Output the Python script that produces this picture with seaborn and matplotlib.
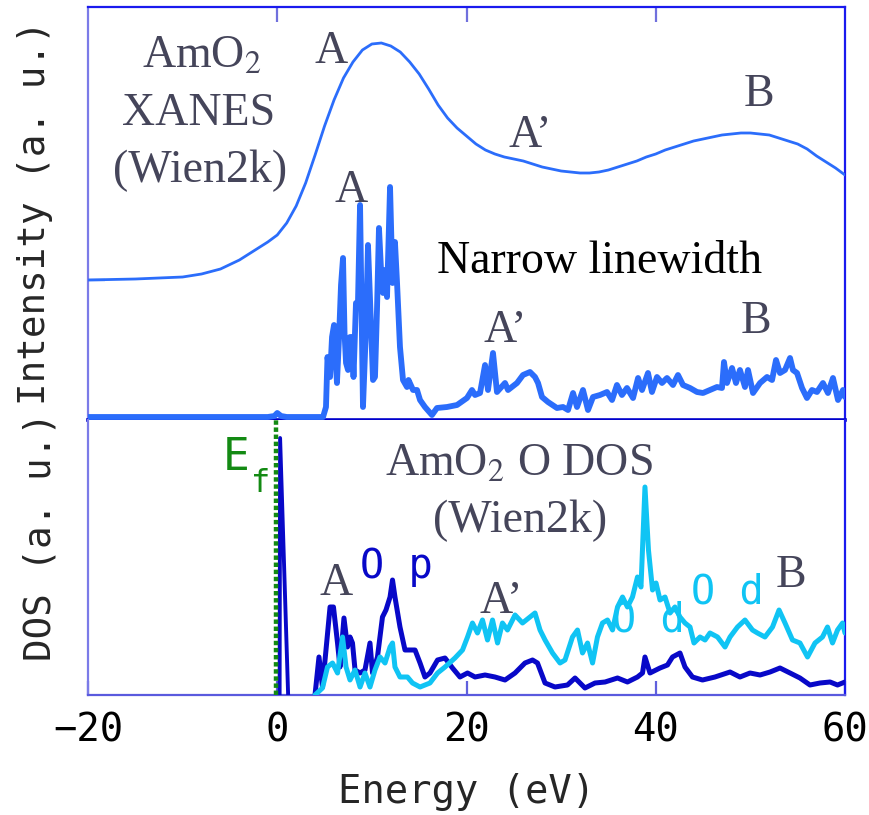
import matplotlib
matplotlib.use("Agg")
import matplotlib.pyplot as plt
import seaborn as sns

sns.set_style("white")
plt.rcParams["font.family"] = ["DejaVu Sans Mono"]
plt.rcParams["mathtext.fontset"] = "stix"

# XANES (broadened), energy in eV, intensity in a.u.
xanes_e = [-20, -15, -10, -8, -6, -4, -3, -2, -1, 0, 1, 2, 3, 4, 5, 6, 7, 8, 9, 10,
           11, 12, 13, 14, 15, 16, 17, 18, 19, 20, 21, 22, 23, 24, 25, 26, 27, 28, 29,
           30, 31, 32, 33, 34, 35, 36, 37, 38, 39, 40, 41, 42, 43, 44, 45, 46, 47, 48,
           49, 50, 51, 52, 53, 54, 55, 56, 57, 58, 59, 60]
xanes_v = [140, 141, 143, 146, 151, 160, 166, 172, 178, 185, 197, 214, 237, 265, 294, 320, 342, 358, 370, 376,
           377, 374, 368, 358, 346, 331, 315, 302, 292, 284, 276, 270, 266, 263, 261, 259, 256, 253, 251,
           249, 248, 247, 247, 248, 250, 253, 256, 259, 263, 266, 270, 273, 276, 279, 281, 283, 285, 286,
           287, 287, 286, 285, 282, 279, 276, 271, 264, 258, 252, 245]

# XANES with narrow linewidth
narrow_e = [-20, -1.0, -0.3, 0.0, 0.4, 1.0, 4.3, 4.84, 5.15, 5.31,
            5.58, 5.79, 6.00, 6.31, 6.53, 6.74, 6.95, 7.11, 7.27, 7.48,
            7.69, 7.90, 8.06, 8.32, 8.53, 8.75, 9.06, 9.38, 9.59, 9.91,
            10.12, 10.33, 10.54, 10.75, 11.02, 11.18, 11.39, 11.60, 11.92, 12.18,
            12.44, 12.66, 12.97, 13.29, 13.71, 13.87, 14.35, 14.77, 15.09, 15.61,
            16.35, 16.88, 17.94, 19.00, 20.05, 20.58, 20.90, 21.43, 21.96, 22.27,
            22.80, 23.22, 24.07, 24.39, 25.34, 25.97, 26.71, 27.24, 27.56, 27.98,
            28.61, 29.56, 30.20, 30.73, 31.26, 31.68, 32.31, 32.84, 33.37, 34.11,
            34.85, 35.38, 35.90, 36.43, 36.96, 37.60, 38.13, 38.55, 39.18, 39.60,
            40.13, 40.66, 41.19, 41.82, 42.35, 42.88, 43.62, 44.36, 44.99, 45.73,
            46.47, 47.00, 47.21, 47.53, 48.06, 48.48, 48.90, 49.43, 49.75, 50.28,
            51.02, 51.76, 52.29, 52.71, 53.13, 53.66, 54.19, 54.50, 54.93, 55.46,
            55.98, 56.51, 57.04, 57.67, 58.20, 58.73, 59.26, 59.79, 60.0]
narrow_v = [3, 3, 4, 7, 4, 3, 3, 3, 13, 63,
            43, 83, 95, 37, 83, 135, 162, 87, 57, 50,
            83, 83, 43, 117, 117, 215, 13, 93, 175, 93,
            40, 43, 110, 192, 140, 127, 150, 123, 233, 137,
            178, 137, 73, 40, 33, 40, 30, 30, 20, 13,
            5, 12, 13, 15, 22, 30, 25, 27, 55, 30,
            67, 28, 37, 30, 37, 45, 48, 43, 37, 23,
            18, 12, 13, 10, 27, 13, 30, 10, 23, 25,
            28, 20, 35, 25, 32, 22, 42, 30, 47, 28,
            43, 37, 42, 35, 45, 35, 32, 28, 27, 30,
            33, 32, 58, 37, 52, 37, 50, 33, 50, 27,
            37, 43, 40, 60, 47, 50, 62, 50, 47, 32,
            22, 30, 28, 37, 27, 42, 20, 30, 23]

# O p DOS: peak at the Fermi level and the conduction band part
op_ef_e = [0.25, 0.3, 1.15]
op_ef_v = [0, 257, 0]
op_e = [3.99, 4.41, 4.78, 5.15, 5.58, 5.94, 6.37, 6.63, 7.05, 7.42,
        7.69, 7.95, 8.22, 8.75, 9.27, 9.80, 10.07, 10.59, 11.12, 11.49,
        11.92, 12.18, 12.44, 12.97, 13.50, 14.03, 14.56, 15.09, 15.61, 16.14,
        16.94, 17.73, 18.52, 19.31, 20.11, 20.90, 21.96, 23.01, 24.07, 25.13,
        26.18, 26.98, 27.50, 28.30, 29.35, 30.67, 31.47, 32.52, 33.58, 34.64,
        35.96, 37.01, 38.07, 38.60, 38.86, 39.39, 40.45, 41.24, 41.77, 42.56,
        43.09, 43.88, 44.94, 46.26, 47.85, 48.90, 49.96, 51.02, 52.08, 53.13,
        54.19, 55.24, 56.30, 57.36, 58.42, 59.21, 60.0]
op_v = [0, 38, 8, 45, 88, 88, 52, 28, 77, 48,
        58, 52, 25, 22, 25, 52, 22, 38, 78, 85,
        98, 115, 98, 68, 45, 45, 45, 32, 18, 22,
        35, 37, 27, 18, 22, 18, 20, 18, 15, 22,
        32, 35, 32, 12, 8, 10, 17, 7, 12, 13,
        17, 13, 18, 22, 38, 22, 27, 30, 38, 42,
        28, 18, 15, 18, 23, 18, 22, 20, 23, 27,
        22, 17, 10, 12, 13, 10, 13]

# O d DOS
od_e = [3.99, 4.78, 5.31, 5.84, 6.37, 6.90, 7.27, 7.69, 8.22, 8.75,
        9.27, 9.80, 10.33, 10.86, 11.39, 11.92, 12.18, 12.44, 12.97, 13.76,
        14.29, 15.09, 16.14, 16.94, 17.73, 18.78, 19.58, 20.11, 20.63, 21.16,
        21.69, 22.22, 22.75, 23.28, 23.80, 24.33, 25.13, 25.92, 26.71, 27.24,
        27.77, 28.30, 29.09, 29.88, 30.41, 31.20, 31.73, 32.26, 32.79, 33.32,
        33.84, 34.37, 34.90, 35.43, 35.96, 36.49, 37.01, 37.54, 38.07, 38.44,
        38.86, 39.23, 39.66, 40.03, 40.45, 40.98, 41.51, 42.03, 42.56, 43.09,
        43.62, 44.04, 44.68, 45.21, 45.73, 46.53, 47.32, 47.85, 48.64, 49.43,
        50.22, 50.75, 51.54, 52.34, 53.03, 53.66, 54.45, 55.24, 56.04, 56.83,
        57.62, 58.15, 58.68, 59.21, 59.74, 60.0]
od_v = [0, 7, 28, 32, 22, 58, 28, 15, 25, 8,
        22, 8, 25, 38, 32, 48, 52, 28, 18, 18,
        12, 8, 12, 22, 28, 37, 45, 58, 72, 62,
        75, 55, 75, 52, 72, 65, 80, 72, 78, 82,
        65, 55, 42, 32, 35, 58, 65, 42, 52, 32,
        58, 72, 75, 65, 88, 98, 88, 98, 118, 108,
        208, 145, 105, 112, 95, 98, 82, 88, 78, 72,
        68, 52, 58, 55, 62, 58, 48, 58, 68, 75,
        65, 62, 58, 68, 85, 72, 55, 52, 38, 52,
        58, 68, 52, 65, 72, 62]

BLUE = "#2b6dfb"
DARK = "#0808c8"
CYAN = "#10c4f4"
GREEN = "#138a13"
GRAY = "#45455a"
SERIF = ["Liberation Serif", "DejaVu Serif"]

fig = plt.figure(figsize=(8.69, 8.15), dpi=100)
ax1 = fig.add_axes([88 / 869, 1 - 420 / 815, 757 / 869, 413 / 815])
ax2 = fig.add_axes([88 / 869, 1 - 695 / 815, 757 / 869, 275 / 815])

sns.lineplot(x=xanes_e, y=xanes_v, ax=ax1, color=BLUE, linewidth=2.0, estimator=None, zorder=3)
sns.lineplot(x=narrow_e, y=narrow_v, ax=ax1, color=BLUE, linewidth=4.2, estimator=None, zorder=3)

sns.lineplot(x=op_ef_e, y=op_ef_v, ax=ax2, color=DARK, linewidth=2.8, estimator=None, zorder=3)
sns.lineplot(x=op_e, y=op_v, ax=ax2, color=DARK, linewidth=3.6, estimator=None, zorder=3)
sns.lineplot(x=od_e, y=od_v, ax=ax2, color=CYAN, linewidth=3.6, estimator=None, zorder=4)
ax2.axvline(-0.1, color=GREEN, lw=3.2, linestyle=(0, (1.0, 0.6)), zorder=5)

ax1.set_xlim(-20, 60)
ax2.set_xlim(-20, 60)
ax1.set_ylim(0, 413)
ax2.set_ylim(0, 275)

# frames
for ax in (ax1, ax2):
    ax.spines["left"].set_color("#7b7be8")
    ax.spines["left"].set_linewidth(1.6)
    ax.spines["right"].set_color("#1a1aee")
    ax.spines["right"].set_linewidth(1.6)
ax1.spines["top"].set_color("#1a1aee")
ax1.spines["top"].set_linewidth(1.6)
ax1.spines["bottom"].set_color("#0000cc")
ax1.spines["bottom"].set_linewidth(2.6)
ax2.spines["top"].set_visible(False)
ax2.spines["bottom"].set_color("#5a5ade")
ax2.spines["bottom"].set_linewidth(1.6)

ax1.set_xticks([0, 20, 40])
ax1.tick_params(axis="x", bottom=False, top=True, direction="in", length=11,
                width=1.6, color="#7070dd", labelbottom=False, labeltop=False)
ax1.set_yticks([xanes_v[0]])
ax1.tick_params(axis="y", left=True, direction="in", length=12, width=1.6,
                color=BLUE, labelleft=False)

ax2.set_xticks([-20, 0, 20, 40, 60])
ax2.tick_params(axis="x", bottom=True, direction="in", length=10, width=1.6,
                color="#6060dd", labelsize=28, pad=12, labelcolor="black")
ax2.set_yticks([])
ax2.set_xlabel("Energy (eV)", fontsize=28, labelpad=17)
ax1.set_ylabel("")
ax2.set_ylabel("")

fig.text(35 / 869, 1 - 213 / 815, "Intensity (a. u.)", rotation=90,
         ha="center", va="center", fontsize=27)
fig.text(41 / 869, 1 - 537 / 815, "DOS (a. u.)", rotation=90,
         ha="center", va="center", fontsize=27)

# annotations, top panel
kw = dict(ha="center", va="baseline", family=SERIF, fontsize=33, color=GRAY)
ax1.text(-7.95, 353, "AmO$_2$", **kw)
ax1.text(-8.27, 295, "XANES", **kw)
ax1.text(-8.16, 238, "(Wien2k)", **kw)
ax1.text(5.68, 357, "A", **kw)
ax1.text(26.71, 273, "A\u2019", **kw)
ax1.text(50.91, 314, "B", **kw)
ax1.text(7.79, 218, "A", **kw)
ax1.text(34.11, 147, "Narrow linewidth", ha="center", va="baseline",
         family=SERIF, fontsize=33, color="black")
ax1.text(24.07, 78, "A\u2019", **kw)
ax1.text(50.59, 87, "B", **kw)

# annotations, bottom panel
ax2.text(25.55, 220, "AmO$_2$ O DOS", **kw)
ax2.text(25.65, 163, "(Wien2k)", **kw)
ax2.text(6.21, 100, "A", **kw)
ax2.text(23.65, 82, "A\u2019", **kw)
ax2.text(54.29, 108, "B", **kw)
ax2.text(12.55, 117, "O p", ha="center", va="baseline", fontsize=29, color=DARK)
ax2.text(47.53, 92, "O d", ha="center", va="baseline", fontsize=29, color=CYAN)
ax2.text(39.18, 63, "O d", ha="center", va="baseline", fontsize=29, color=CYAN, zorder=1)
ax2.text(-4.3, 225, "E", ha="center", va="baseline", fontsize=32, color=GREEN)
ax2.text(-1.75, 203, "f", ha="center", va="baseline", fontsize=23, color=GREEN)

fig.savefig("out.png", dpi=100, facecolor="white")
